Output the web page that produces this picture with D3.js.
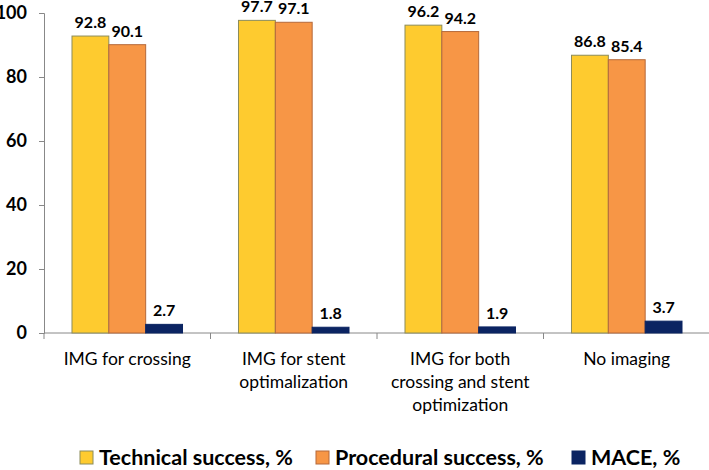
<!doctype html>
<meta charset="utf-8">
<head>
<script src="https://d3js.org/d3.v7.min.js"></script>
<style>
  body { margin: 0; background: #fff; }
  text { font-family: Lato, "Open Sans", sans-serif; fill: #000; }
</style>
</head>
<body>
<svg width="709" height="470"></svg>
<script>
    let categories = [
        ["IMG for crossing"],
        ["IMG for stent", "optimalization"],
        ["IMG for both", "crossing and stent", "optimization"],
        ["No imaging"]
    ];
    let seriesNames = ["Technical success, %", "Procedural success, %", "MACE, %"];
    let technical = [92.8, 97.7, 96.2, 86.8];
    let procedural = [90.1, 97.1, 94.2, 85.4];
    let mace = [2.7, 1.8, 1.9, 3.7];
    let yTicks = [0, 20, 40, 60, 80, 100];

    let fills = ["#FECB2F", "#F79646", "#0B2462"];
    let strokes = ["#8C8C5A", "#B5693A", "#0B2462"];

    let svg = d3.select("svg");
    let plotLeft = 44, plotRight = 710, plotTop = 13, plotBottom = 333;

    let x = d3.scaleBand()
        .domain(d3.range(categories.length))
        .range([plotLeft, plotRight]);
    let y = d3.scaleLinear().domain([0, 100]).range([plotBottom, plotTop]);
    let inner = d3.scaleBand()
        .domain(d3.range(3))
        .range([0, x.bandwidth()])
        .paddingOuter(0.76)
        .paddingInner(0);

    let series = [technical, procedural, mace];

    // axes
    let yAxis = svg.append("g")
        .attr("transform", `translate(${plotLeft},0)`)
        .call(d3.axisLeft(y).tickValues(yTicks).tickSize(5).tickPadding(12));
    yAxis.select(".domain").attr("stroke", "#888");
    yAxis.selectAll(".tick line").attr("stroke", "#888");
    yAxis.selectAll(".tick text")
        .attr("font-size", 18).attr("font-weight", "bold")
        .style("font-family", "Lato, sans-serif");

    let xAxis = svg.append("g")
        .attr("transform", `translate(0,${plotBottom})`);
    xAxis.append("line")
        .attr("x1", plotLeft).attr("x2", plotRight)
        .attr("stroke", "#888");
    xAxis.selectAll(".xt")
        .data(d3.range(categories.length + 1))
        .enter().append("line")
        .attr("x1", (d) => plotLeft + d * x.step())
        .attr("x2", (d) => plotLeft + d * x.step())
        .attr("y1", 0).attr("y2", 6)
        .attr("stroke", "#888");

    // bars
    series.forEach((vals, s) => {
        let g = svg.append("g");
        g.selectAll("rect")
            .data(vals)
            .enter().append("rect")
            .attr("x", (d, i) => x(i) + inner(s))
            .attr("y", (d) => y(d))
            .attr("width", inner.bandwidth())
            .attr("height", (d) => y(0) - y(d))
            .attr("fill", fills[s])
            .attr("stroke", strokes[s])
            .attr("stroke-width", 1);
        g.selectAll("text")
            .data(vals)
            .enter().append("text")
            .attr("x", (d, i) => x(i) + inner(s) + inner.bandwidth() / 2)
            .attr("y", (d) => y(d) - 8)
            .attr("text-anchor", "middle")
            .attr("font-size", 16)
            .attr("font-weight", "bold")
            .text((d) => d.toFixed(1));
    });

    // category labels
    let cl = svg.append("g");
    categories.forEach((lines, i) => {
        let t = cl.append("text")
            .attr("text-anchor", "middle")
            .attr("font-size", 17.5)
            .attr("x", x(i) + x.bandwidth() / 2)
            .attr("y", plotBottom + 32);
        lines.forEach((ln, j) => {
            t.append("tspan")
                .attr("x", x(i) + x.bandwidth() / 2)
                .attr("dy", j == 0 ? 0 : 23)
                .text(ln);
        });
    });

    // legend
    let legendX = [80, 316, 572];
    let lg = svg.selectAll(".legend")
        .data(seriesNames)
        .enter().append("g")
        .attr("transform", (d, i) => `translate(${legendX[i]},451)`);
    lg.append("rect")
        .attr("width", 13).attr("height", 13)
        .attr("fill", (d, i) => fills[i])
        .attr("stroke", (d, i) => strokes[i]);
    lg.append("text")
        .attr("x", 19).attr("y", 14)
        .attr("font-size", 21.5)
        .attr("font-weight", "bold")
        .text((d) => d);
</script>
</body>
